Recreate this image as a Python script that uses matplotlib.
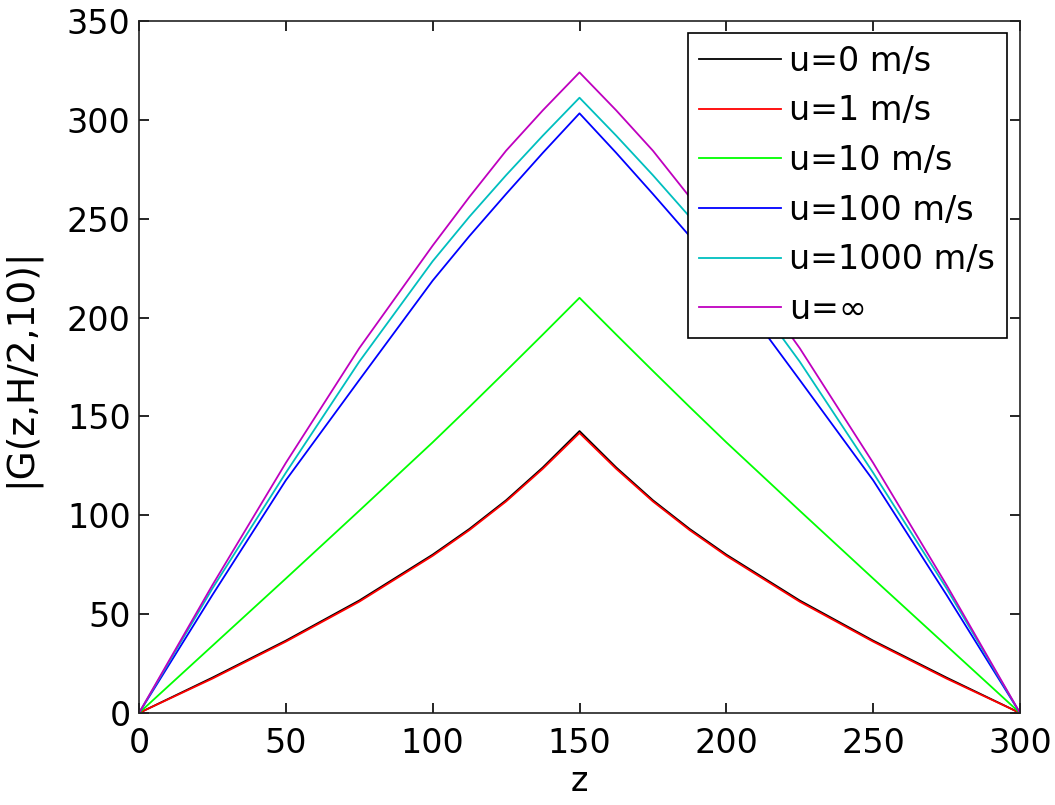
import numpy as np
import matplotlib.pyplot as plt

plt.rcParams['font.family'] = ['DejaVu Sans']

# z positions where values were read
z = [0, 25, 50, 75, 100, 112.5, 125, 137.5, 150,
     162.5, 175, 187.5, 200, 225, 250, 275, 300]

# |G(z,H/2,10)| for each speed
g_u0 = [0, 17.9, 36.6, 56.9, 80.1, 93.1, 107.6, 124.2, 142.6,
        124.2, 107.6, 93.1, 80.1, 56.9, 36.6, 17.9, 0]
g_u1 = [0, 17.4, 36.1, 56.3, 79.5, 92.5, 107.0, 123.5, 141.6,
        123.5, 107.0, 92.5, 79.5, 56.3, 36.1, 17.4, 0]
g_u10 = [0, 34.0, 68.0, 102.3, 136.9, 154.8, 173.0, 191.4, 210.0,
         191.4, 173.0, 154.8, 136.9, 102.3, 68.0, 34.0, 0]
g_u100 = [0, 59.7, 117.7, 168.4, 218.7, 241.2, 262.5, 283.3, 303.3,
          283.3, 262.5, 241.2, 218.7, 168.4, 117.7, 59.7, 0]
g_u1000 = [0, 63.0, 121.5, 177.7, 228.5, 251.0, 272.0, 292.0, 311.2,
           292.0, 272.0, 251.0, 228.5, 177.7, 121.5, 63.0, 0]
g_inf = [0, 64.7, 126.5, 184.5, 236.4, 261.0, 284.4, 304.8, 324.0,
         304.8, 284.4, 261.0, 236.4, 184.5, 126.5, 64.7, 0]

labels = ['u=0 m/s', 'u=1 m/s', 'u=10 m/s', 'u=100 m/s', 'u=1000 m/s', 'u=$\\infty$']
colors = ['k', 'r', (0, 1, 0), 'b', 'c', 'm']
series = [g_u0, g_u1, g_u10, g_u100, g_u1000, g_inf]

fig = plt.figure(figsize=(10.55, 8.05), dpi=100)
ax = fig.add_axes([139 / 1055, 1 - 713 / 805, (1020 - 139) / 1055, (713 - 21) / 805])

for vals, c, lab in zip(series, colors, labels):
    ax.plot(z, vals, color=c, lw=1.3, label=lab)

ax.set_xlim(0, 300)
ax.set_ylim(0, 350)
ax.set_xticks(np.arange(0, 301, 50))
ax.set_yticks(np.arange(0, 351, 50))
ax.tick_params(direction='in', length=7, width=1.2, labelsize=24,
               top=True, right=True, pad=6)
ax.tick_params(axis='x', pad=10)
for s in ax.spines.values():
    s.set_linewidth(1.2)
    s.set_color('#222222')

ax.set_xlabel('z', fontsize=24, labelpad=4)
ax.set_ylabel('|G(z,H/2,10)|', fontsize=27)
ax.yaxis.set_label_coords(-100 / 881, 0.5)

leg = ax.legend(loc='upper right', bbox_to_anchor=(1007 / 1055, 1 - 33 / 805),
                bbox_transform=fig.transFigure, fontsize=24, fancybox=False,
                framealpha=1, edgecolor='k', borderaxespad=0,
                handlelength=2.45, handletextpad=0.25, labelspacing=0.5,
                borderpad=0.35)
leg.get_frame().set_linewidth(1.2)

fig.savefig('out.png', dpi=100)
